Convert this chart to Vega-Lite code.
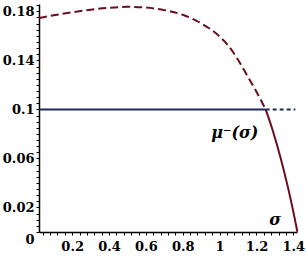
{
  "$schema": "https://vega.github.io/schema/vega-lite/v6.json",
  "width": 258,
  "height": 228,
  "autosize": {"type": "none"},
  "padding": {"left": 39, "top": 4, "right": 9, "bottom": 33},
  "background": "white",
  "config": {
    "view": {"stroke": null},
    "axis": {
      "grid": false,
      "domainColor": "black",
      "domainWidth": 1.5,
      "tickColor": "black",
      "tickSize": 3,
      "tickWidth": 1,
      "labelFont": "DejaVu Serif",
      "labelFontWeight": "bold",
      "labelFontSize": 13,
      "labelColor": "black",
      "labelOverlap": false,
      "labelFlush": false,
      "labelPadding": 2,
      "title": null
    }
  },
  "encoding": {
    "x": {
      "field": "sigma",
      "type": "quantitative",
      "scale": {"domain": [0.02, 1.42], "nice": false, "zero": false},
      "axis": {
        "values": [0.04,0.08,0.12,0.16,0.2,0.24,0.28,0.32,0.36,0.4,0.44,0.48,0.52,0.56,0.6,0.64,0.68,0.72,0.76,0.8,0.84,0.88,0.92,0.96,1,1.04,1.08,1.12,1.16,1.2,1.24,1.28,1.32,1.36,1.4],
        "labelExpr": "abs(datum.value*5-round(datum.value*5))<0.001 ? format(datum.value,'.1~f') : ''",
        "labelPadding": 5
      }
    },
    "y": {
      "field": "value",
      "type": "quantitative",
      "scale": {"domain": [0, 0.186], "nice": false},
      "axis": {
        "values": [0,0.005,0.01,0.015,0.02,0.025,0.03,0.035,0.04,0.045,0.05,0.055,0.06,0.065,0.07,0.075,0.08,0.085,0.09,0.095,0.1,0.105,0.11,0.115,0.12,0.125,0.13,0.135,0.14,0.145,0.15,0.155,0.16,0.165,0.17,0.175,0.18,0.185],
        "labelExpr": "datum.value < 0.001 ? '0' : (abs((datum.value*100-2)/4 - round((datum.value*100-2)/4)) < 0.01 ? format(datum.value,'.2~f') : '')",
        "labelOffset": {"condition": {"test": "datum.value === 0", "value": 7}, "value": 0}
      }
    }
  },
  "layer": [
    {
      "data": {"values": [{"sigma": 0.02, "value": 0.1}, {"sigma": 1.25, "value": 0.1}]},
      "mark": {"type": "line", "color": "#1b2a5c", "strokeWidth": 2}
    },
    {
      "data": {"values": [{"sigma": 1.25, "value": 0.1}, {"sigma": 1.411, "value": 0.1}]},
      "mark": {"type": "line", "color": "#1b2a5c", "strokeWidth": 2, "strokeDash": [4, 3]}
    },
    {
      "data": {"values": [
        {"sigma": 0.02, "value": 0.1745},
        {"sigma": 0.1, "value": 0.1768},
        {"sigma": 0.2, "value": 0.1792},
        {"sigma": 0.3, "value": 0.1813},
        {"sigma": 0.4, "value": 0.1829},
        {"sigma": 0.5, "value": 0.1837},
        {"sigma": 0.6, "value": 0.1831},
        {"sigma": 0.7, "value": 0.181},
        {"sigma": 0.8, "value": 0.1772},
        {"sigma": 0.9, "value": 0.1702},
        {"sigma": 1.0, "value": 0.1595},
        {"sigma": 1.05, "value": 0.1515},
        {"sigma": 1.1, "value": 0.1405},
        {"sigma": 1.15, "value": 0.1275},
        {"sigma": 1.2, "value": 0.1145},
        {"sigma": 1.25, "value": 0.1}
      ]},
      "mark": {"type": "line", "color": "#6b0d1f", "strokeWidth": 2, "strokeDash": [8, 4], "interpolate": "monotone"}
    },
    {
      "data": {"values": [
        {"sigma": 1.25, "value": 0.1},
        {"sigma": 1.29, "value": 0.082},
        {"sigma": 1.33, "value": 0.061},
        {"sigma": 1.37, "value": 0.037},
        {"sigma": 1.4, "value": 0.0166},
        {"sigma": 1.422, "value": 0.0002}
      ]},
      "mark": {"type": "line", "color": "#6b0d1f", "strokeWidth": 2, "interpolate": "monotone"}
    },
    {
      "data": {"values": [
        {"sigma": 1.083, "value": 0.081, "label": "μ⁻(σ)"},
        {"sigma": 1.301, "value": 0.0098, "label": "σ"}
      ]},
      "mark": {"type": "text", "font": "DejaVu Serif", "fontWeight": "bold", "fontStyle": "italic", "fontSize": 16, "color": "black", "align": "center", "baseline": "middle"},
      "encoding": {"text": {"field": "label", "type": "nominal"}}
    }
  ]
}
